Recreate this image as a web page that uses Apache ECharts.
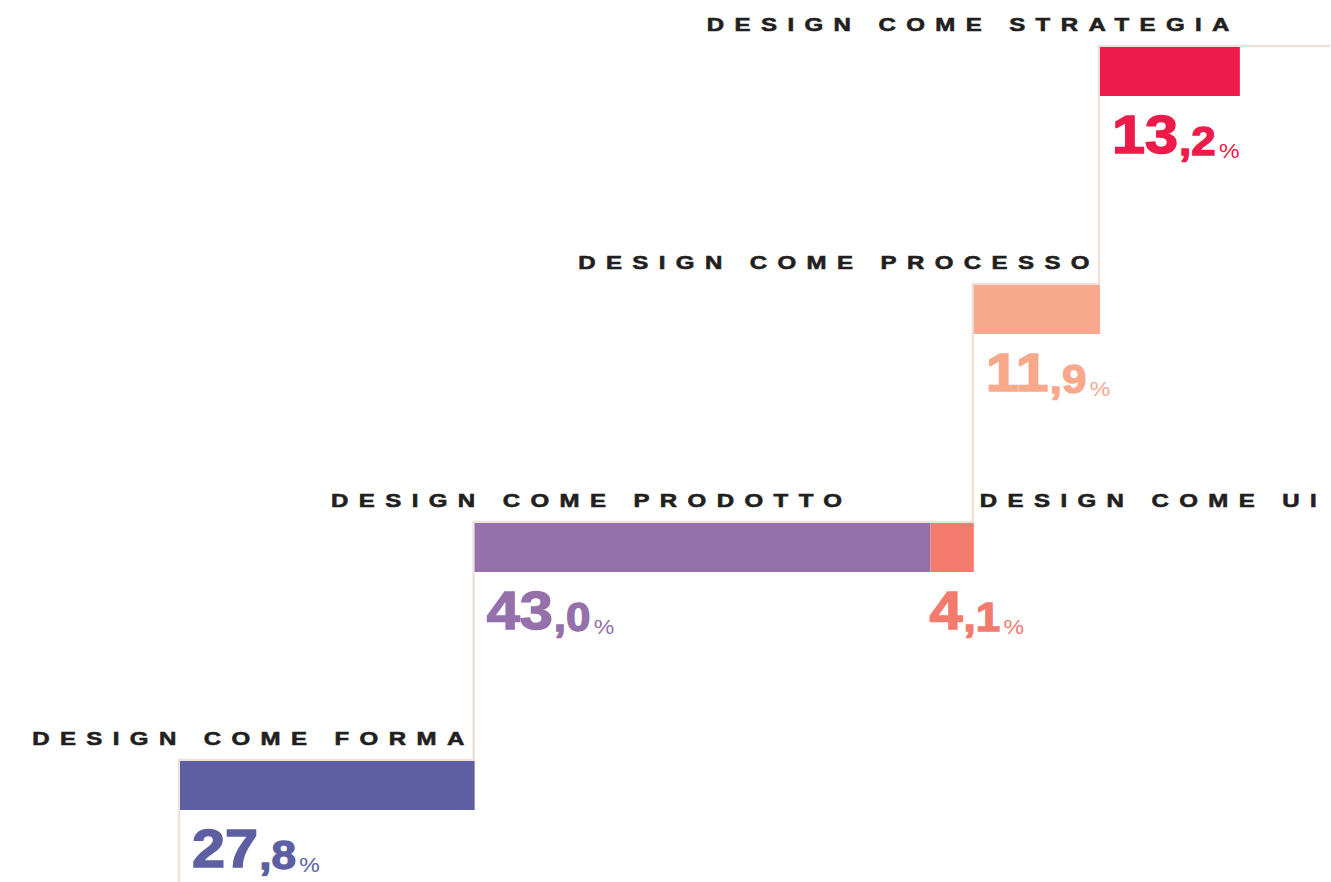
<!DOCTYPE html>
<html><head><meta charset="utf-8">
<script src="https://cdn.jsdelivr.net/npm/echarts@6/dist/echarts.min.js"></script>
<style>
html,body{margin:0;padding:0;background:#fff;overflow:hidden;}
#chart{width:1331px;height:882px;}
#chart svg text[fill="#231f20"]{letter-spacing:8px;}
</style></head><body><div id="chart"></div>
<script>
// ---- data ----
const categories = ['DESIGN COME FORMA', 'DESIGN COME PRODOTTO', 'DESIGN COME UI', 'DESIGN COME PROCESSO', 'DESIGN COME STRATEGIA'];
const values = [27.8, 43.0, 4.1, 11.9, 13.2];
const levels = [0, 1, 1, 2, 3];
const colors = ['#5d5fa2', '#9570aa', '#f37b6e', '#f8a98c', '#ee1a4a'];

// ---- layout / style ----
const LINE_COLOR = '#eee1dc';
const TEXT_COLOR = '#231f20';
const X_MAX = 108.6;
const BAR_THICK = 0.206;
const labelLayout = [
  { align: 'right', dx: 0 },
  { align: 'right', dx: -78 },
  { align: 'left', dx: 6 },
  { align: 'right', dx: 0 },
  { align: 'right', dx: 0 }
];
const valueDx = [12, 12, -1, 12, 12];

// ---- derived ----
const starts = [], ends = [];
let acc = 0;
values.forEach(v => { starts.push(acc); acc += v; ends.push(acc); });
const barData = values.map((v, i) => [starts[i], ends[i], levels[i], i]);

const stepPoints = [[0, -1]];
const uniqLevels = [...new Set(levels)];
uniqLevels.forEach((lv, k) => {
  const idx = levels.map((l, i) => l === lv ? i : -1).filter(i => i >= 0);
  const x0 = Math.min(...idx.map(i => starts[i]));
  const x1 = k === uniqLevels.length - 1 ? X_MAX : Math.max(...idx.map(i => ends[i]));
  stepPoints.push([x0, lv], [x1, lv]);
});

function parts(v) {
  const s = v.toFixed(1).split('.');
  return [s[0], s[1]];
}

function renderStep(params, api) {
  const pts = stepPoints.map(p => { const c = api.coord(p); return [c[0] - 1, c[1] - 1]; });
  return { type: 'polyline', shape: { points: pts }, style: { stroke: LINE_COLOR, lineWidth: 2.5, fill: null } };
}

function renderBar(params, api) {
  const i = api.value(3);
  const p0 = api.coord([api.value(0), api.value(2)]);
  const p1 = api.coord([api.value(1), api.value(2)]);
  const h = api.size([0, BAR_THICK])[1];
  const lay = labelLayout[i];
  const [ip, dp] = parts(values[i]);
  const c = colors[i];
  return {
    type: 'group',
    children: [
      { type: 'rect', shape: { x: p0[0], y: p0[1], width: p1[0] - p0[0], height: h }, style: { fill: c } },
      { type: 'text', x: p1[0] + lay.dx, y: p0[1] - 22, scaleX: 1.3,
        style: { text: categories[i], fill: TEXT_COLOR, stroke: TEXT_COLOR, lineWidth: 0.6,
                 fontFamily: 'Liberation Sans', fontWeight: 'bold', fontSize: 18.5,
                 align: lay.align, verticalAlign: 'middle' } },
      { type: 'text', x: p0[0] + valueDx[i], y: p0[1] + h + 65, scaleX: 1.1,
        style: {
          text: '{a|' + ip + '}{b|,' + dp + '}{c|%}', fill: c, align: 'left', verticalAlign: 'bottom',
          rich: {
            a: { fill: c, stroke: c, lineWidth: 1.5, fontFamily: 'Liberation Sans', fontWeight: 'bold', fontSize: 54, lineHeight: 62, verticalAlign: 'bottom' },
            b: { fill: c, stroke: c, lineWidth: 1.3, fontFamily: 'Liberation Sans', fontWeight: 'bold', fontSize: 40, lineHeight: 52, verticalAlign: 'bottom', padding: [0, 0, 0, 1] },
            c: { fill: c, fontFamily: 'Liberation Sans', fontWeight: 'normal', fontSize: 21, lineHeight: 39, verticalAlign: 'bottom', padding: [0, 0, 0, 3] }
          }
        } }
    ]
  };
}

const chart = echarts.init(document.getElementById('chart'), null, { renderer: 'svg' });
chart.setOption({
  animation: false,
  backgroundColor: '#ffffff',
  grid: { left: 180, right: 0, top: 47, bottom: 121 },
  xAxis: { type: 'value', min: 0, max: X_MAX, show: false },
  yAxis: { type: 'value', min: 0, max: 3, show: false },
  series: [
    { type: 'custom', renderItem: renderStep, data: [[0, 0]], encode: { x: 0, y: 1 }, z: 1, silent: true },
    { type: 'custom', renderItem: renderBar, data: barData, encode: { x: [0, 1], y: 2 }, z: 2, silent: true }
  ]
});
</script></body></html>
